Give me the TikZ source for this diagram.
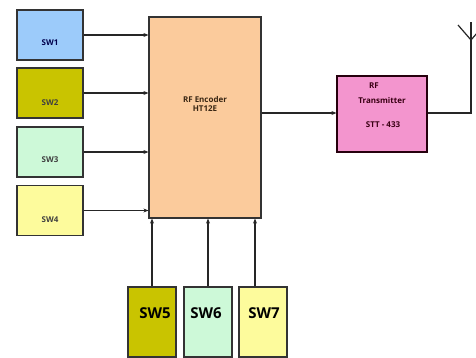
\documentclass[tikz,border=0pt]{standalone}
\usepackage{fontspec}
\setmainfont{Open Sans}
\usetikzlibrary{arrows.meta}
\definecolor{cblue}{HTML}{9CCBFA}
\definecolor{colive}{HTML}{C9C400}
\definecolor{cmint}{HTML}{CDF9D8}
\definecolor{cyell}{HTML}{FDFB9C}
\definecolor{cpeach}{HTML}{FBCB9C}
\definecolor{cpink}{HTML}{F395CE}
\definecolor{cedge}{HTML}{333333}
\begin{document}
\begin{tikzpicture}[x=1pt,y=-1pt,
  box/.style={draw=cedge,line width=1.2pt,inner sep=0pt},
  lbl/.style={font=\fontsize{8}{9}\selectfont\bfseries,text=black!75},
  big/.style={font=\fontsize{15}{17}\selectfont\bfseries,text=black},
  conn/.style={draw=black!85,line width=1.2pt,-{Stealth[length=5pt,width=4pt]}}]
\useasboundingbox (0,0) rectangle (476,358);
% left switches
\node[box,fill=cblue,minimum width=66pt,minimum height=50pt] (sw1) at (50,35) {};
\node[box,fill=colive,minimum width=66pt,minimum height=50pt] (sw2) at (50,93) {};
\node[box,fill=cmint,minimum width=66pt,minimum height=50pt] (sw3) at (50,152) {};
\node[box,fill=cyell,minimum width=66pt,minimum height=50pt] (sw4) at (50,210.5) {};
\node[lbl,text=blue!30!black] (t1) at (50,43) {SW1};
\node[lbl] (t2) at (50,103) {SW2};
\node[lbl] (t3) at (50,160) {SW3};
\node[lbl] (t4) at (50,220) {SW4};
% encoder
\node[box,fill=cpeach,minimum width=112pt,minimum height=201pt] (enc) at (205,117.5) {};
\node[lbl,text=black!70!brown,align=center] (enct) at (205,104) {RF Encoder\\HT12E};
% transmitter
\node[box,draw=black!80!purple,fill=cpink,minimum width=90pt,minimum height=76pt] (tx) at (382,114) {};
\node[lbl,text=black!70!purple] (txa) at (374,86) {RF};
\node[lbl,text=black!70!purple] (txb) at (382,101) {Transmitter};
\node[lbl,text=black!70!purple] (txc) at (383,125) {STT - 433};
% bottom switches
\node[box,fill=colive,minimum width=48pt,minimum height=70pt] (sw5) at (152,322) {};
\node[box,fill=cmint,minimum width=48pt,minimum height=70pt] (sw6) at (208,322) {};
\node[box,fill=cyell,minimum width=48pt,minimum height=70pt] (sw7) at (263,322) {};
\node[big] (t5) at (155,313) {SW5};
\node[big] (t6) at (206,313) {SW6};
\node[big] (t7) at (264,313) {SW7};
% connectors
\draw[conn] (sw1.east) -- (sw1.east -| enc.west);
\draw[conn] (sw2.east) -- (sw2.east -| enc.west);
\draw[conn] (sw3.east) -- (sw3.east -| enc.west);
\draw[conn] (sw4.east) -- (sw4.east -| enc.west);
\draw[conn] (sw5.north) -- (sw5.north |- enc.south);
\draw[conn] (sw6.north) -- (sw6.north |- enc.south);
\draw[conn] ([xshift=-8pt]sw7.north) -- ([xshift=-8pt]sw7.north |- enc.south);
\coordinate (encout) at (enc.east |- 0,113);
\draw[conn] (encout) -- (encout -| tx.west);
% antenna
\coordinate (ant) at (471,113);
\coordinate (antt) at (471,22);
\coordinate (antv) at (471,40);
\draw[black!85,line width=1.2pt] (tx.east |- ant) -- (ant) -- (antt);
\draw[black!85,line width=1.2pt] (458,25) -- (antv) -- (484,25);
\end{tikzpicture}
\end{document}
